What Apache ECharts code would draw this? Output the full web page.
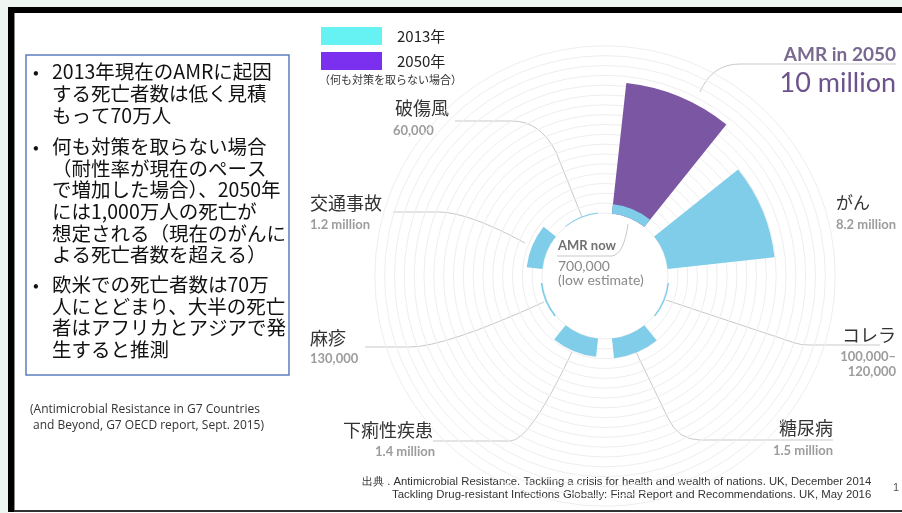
<!DOCTYPE html>
<html><head><meta charset="utf-8">
<script src="https://cdn.jsdelivr.net/npm/echarts@6/dist/echarts.min.js"></script>
<style>html,body{margin:0;padding:0;background:#eef6f2}#c{width:902px;height:513px}</style>
</head><body><div id="c"></div>
<script>
// Categories, clockwise from 12 o'clock
const categories = ['AMR', 'がん', 'コレラ', '糖尿病', '下痢性疾患', '麻疹', '交通事故', '破傷風'];
// Deaths per year (millions)
const deaths2013 = [0.7, 8.2, 0.11, 1.5, 1.4, 0.13, 1.2, 0.06];
const deaths2050 = [10, null, null, null, null, null, null, null];
const seriesNames = ['2013年', '2050年'];
const valueLabels = ['700,000', '8.2 million', '100,000–', '1.5 million', '1.4 million', '130,000', '1.2 million', '60,000'];
const bulletLines = [
  ['•', '2013年現在のAMRに起因'], ['', 'する死亡者数は低く見積'], ['', 'もって70万人'],
  ['•', '何も対策を取らない場合'], ['', '（耐性率が現在のペース'], ['', 'で増加した場合）、2050年'],
  ['', 'には1,000万人の死亡が'], ['', '想定される（現在のがんに'], ['', 'よる死亡者数を超える）'],
  ['•', '欧米での死亡者数は70万'], ['', '人にとどまり、大半の死亡'], ['', '者はアフリカとアジアで発'], ['', '生すると推測']
];

const JP = '"Noto Sans CJK JP", sans-serif';
const EN = 'Lato, "Open Sans", sans-serif';
function txt(x, y, text, font, fill, align) {
  return { type: 'text', x: x, y: y, silent: true,
    style: { text: text, font: font, fill: fill, align: align || 'left', verticalAlign: 'middle',
             textAlign: align || 'left', textVerticalAlign: 'middle' } };
}
const LS = { stroke: '#c9c9c9', lineWidth: 1, fill: null };
function seg(x1, y1, x2, y2) {
  return { type: 'line', silent: true, shape: { x1: x1, y1: y1, x2: x2, y2: y2 }, style: LS };
}
function curve(x1, y1, cx, cy, x2, y2) {
  return { type: 'bezierCurve', silent: true, shape: { x1: x1, y1: y1, cpx1: cx, cpy1: cy, x2: x2, y2: y2 }, style: LS };
}

const lineYs = [72, 94, 116, 147, 168.5, 190, 212, 233.5, 255, 285, 307, 328, 350];
const NUM = 'bold 13px ' + EN;
const graphics = [
  // slide frame
  { type: 'rect', shape: { x: 0, y: 0, width: 902, height: 7 }, style: { fill: '#eef6f2' }, silent: true },
  { type: 'rect', shape: { x: 0, y: 0, width: 8, height: 513 }, style: { fill: '#eef6f2' }, silent: true },
  { type: 'rect', shape: { x: 8, y: 7, width: 894, height: 6 }, style: { fill: '#000' }, silent: true },
  { type: 'rect', shape: { x: 8, y: 7, width: 6, height: 505 }, style: { fill: '#000' }, silent: true },
  { type: 'rect', shape: { x: 14, y: 13, width: 1, height: 498 }, style: { fill: '#888' }, silent: true },
  { type: 'rect', shape: { x: 14, y: 510, width: 888, height: 2 }, style: { fill: '#333' }, silent: true },
  // left text box
  { type: 'rect', shape: { x: 26, y: 55, width: 263, height: 320 }, style: { fill: '#fff', stroke: '#5b7fbd', lineWidth: 1.5 }, silent: true },
  txt(30, 410, '(Antimicrobial Resistance in G7 Countries', '12px "Open Sans", sans-serif', '#333'),
  txt(33, 426, 'and Beyond, G7 OECD report, Sept. 2015)', '12px "Open Sans", sans-serif', '#333'),
  txt(319, 80, '（何も対策を取らない場合）', '11px ' + JP, '#333'),
  // leader lines
  curve(700, 92, 712, 64, 740, 64), seg(740, 64, 896, 64),
  seg(455, 121, 512, 121), curve(512, 121, 540, 121, 556, 152), seg(556, 152, 582, 217),
  seg(393, 212, 440, 212), curve(440, 212, 470, 213, 525, 243),
  seg(365, 347, 410, 347), curve(410, 347, 445, 347, 544, 302),
  seg(433, 441, 510, 441), curve(510, 441, 530, 441, 572, 352),
  seg(636, 352, 668, 418), curve(668, 418, 678, 440, 700, 440), seg(700, 440, 833, 440),
  seg(666, 300, 795, 343), curve(795, 343, 800, 345, 810, 345), seg(810, 345, 880, 345),
  seg(557, 256, 612, 256), curve(612, 256, 624, 254, 628, 224),
  // center text
  txt(558, 246, 'AMR now', 'bold 13px ' + EN, '#707070'),
  txt(558, 266, '700,000', '14px ' + EN, '#8a8a8a'),
  txt(558, 280, '(low estimate)', '14px ' + EN, '#8a8a8a'),
  // category labels
  txt(896, 55, 'AMR in 2050', 'bold 19px ' + EN, '#7a6a92', 'right'),
  txt(896, 83, '10 million', '27px ' + EN, '#6e528c', 'right'),
  txt(395, 108, categories[7], '18px ' + JP, '#333'),
  txt(393, 131, valueLabels[7], NUM, '#9c9c9c'),
  txt(310, 203, categories[6], '18px ' + JP, '#333'),
  txt(310, 225, valueLabels[6], NUM, '#9c9c9c'),
  txt(310, 338, categories[5], '18px ' + JP, '#333'),
  txt(310, 359, valueLabels[5], NUM, '#9c9c9c'),
  txt(343, 430, categories[4], '18px ' + JP, '#333'),
  txt(375, 452, valueLabels[4], NUM, '#9c9c9c'),
  txt(833, 428, categories[3], '18px ' + JP, '#333', 'right'),
  txt(833, 451, valueLabels[3], NUM, '#9c9c9c', 'right'),
  txt(896, 335, categories[2], '18px ' + JP, '#333', 'right'),
  txt(896, 357, valueLabels[2], NUM, '#9c9c9c', 'right'),
  txt(896, 372, '120,000', NUM, '#9c9c9c', 'right'),
  txt(870, 203, categories[1], '17px ' + JP, '#333', 'right'),
  txt(896, 225, valueLabels[1], NUM, '#9c9c9c', 'right'),
  // footer
  txt(362, 482, '出典 . Antimicrobial Resistance. Tackling a crisis for health and wealth of nations. UK, December 2014', '11.3px "Liberation Sans", sans-serif', '#333'),
  txt(392, 495, 'Tackling Drug-resistant Infections Globally: Final Report and Recommendations. UK, May 2016', '11.4px "Liberation Sans", sans-serif', '#333'),
  txt(893, 488, '1', '11px "Liberation Sans", sans-serif', '#555')
];
bulletLines.forEach(function (l, i) {
  if (l[0]) graphics.push(txt(33, lineYs[i], l[0], '17px ' + JP, '#111'));
  graphics.push(txt(52, lineYs[i], l[1], '19.5px ' + JP, '#111'));
});

const chart = echarts.init(document.getElementById('c'), null, { renderer: 'canvas' });
chart.setOption({
  animation: false,
  backgroundColor: '#ffffff',
  legend: {
    orient: 'vertical', left: 321, top: 27, padding: 0, itemGap: 7,
    itemWidth: 61, itemHeight: 18, icon: 'rect', selectedMode: false,
    textStyle: { fontSize: 15, color: '#222', fontFamily: JP, padding: [0, 0, 0, 10] },
    data: [
      { name: seriesNames[0], itemStyle: { color: '#66f2f2' } },
      { name: seriesNames[1], itemStyle: { color: '#7b30f0' } }
    ]
  },
  polar: { center: [605, 276], radius: [63, 230.2] },
  angleAxis: {
    type: 'category', data: categories, startAngle: 90, clockwise: true,
    axisLine: { show: false }, axisTick: { show: false }, axisLabel: { show: false },
    splitLine: { show: false }
  },
  radiusAxis: {
    type: 'value', min: 0, max: 12.75, interval: 0.75,
    axisLine: { show: false }, axisTick: { show: false }, axisLabel: { show: false },
    splitLine: { show: true, lineStyle: { color: '#eeeeee', width: 1 } }
  },
  series: [
    { name: seriesNames[1], type: 'bar', coordinateSystem: 'polar', data: deaths2050,
      barGap: '-100%', barCategoryGap: '28%', itemStyle: { color: '#7b56a3' } },
    { name: seriesNames[0], type: 'bar', coordinateSystem: 'polar', data: deaths2013,
      barGap: '-100%', barCategoryGap: '28%', itemStyle: { color: '#7fcde9' } }
  ],
  graphic: graphics
});
</script></body></html>
